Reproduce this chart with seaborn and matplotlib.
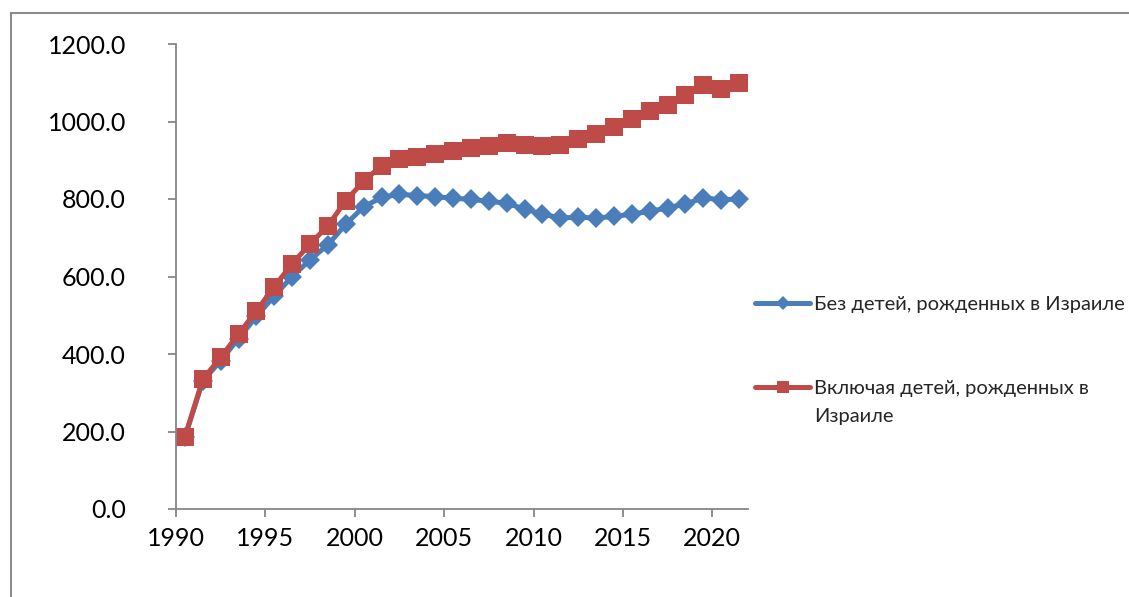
import pandas as pd
import seaborn as sns
import matplotlib.pyplot as plt
from matplotlib.lines import Line2D
from matplotlib.patches import Rectangle

# Data (one point per year, drawn at mid-year)
years = [1990, 1991, 1992, 1993, 1994, 1995, 1996, 1997, 1998, 1999,
         2000, 2001, 2002, 2003, 2004, 2005, 2006, 2007, 2008, 2009,
         2010, 2011, 2012, 2013, 2014, 2015, 2016, 2017, 2018, 2019,
         2020, 2021]
without_israel_born = [186, 330, 383, 440, 497, 550, 600, 643, 682, 735,
                       780, 804, 812, 809, 806, 802, 799, 794, 789, 774,
                       761, 751, 753, 751, 755, 761, 768, 777, 787, 803,
                       798, 800]
with_israel_born = [186, 335, 391, 452, 511, 574, 633, 684, 731, 796,
                    846, 886, 902, 908, 916, 924, 932, 938, 944, 939,
                    938, 939, 955, 968, 985, 1006, 1026, 1043, 1068, 1095,
                    1084, 1099]
series_labels = ["Без детей, рожденных в Израиле",
                 "Включая детей, рожденных в\nИзраиле"]
y_ticks = [0, 200, 400, 600, 800, 1000, 1200]
x_ticks = [1990, 1995, 2000, 2005, 2010, 2015, 2020]

blue = "#4A7EBB"
red = "#BE4B48"
grey = "#868686"

df = pd.DataFrame({"year": years,
                   "without": without_israel_born,
                   "with": with_israel_born})
df["x"] = df["year"] + 0.5

sns.set_style("ticks")
plt.rcParams['font.family'] = ['Lato', 'DejaVu Sans']

fig = plt.figure(figsize=(11.29, 5.97), dpi=100)
ax = fig.add_axes([176 / 1129, 1 - 509 / 597, 572 / 1129, 465 / 597])

sns.lineplot(data=df, x="x", y="without", ax=ax, color=blue, linewidth=3.6,
             marker="D", markersize=10, markeredgewidth=0, legend=False)
sns.lineplot(data=df, x="x", y="with", ax=ax, color=red, linewidth=3.6,
             marker="s", markersize=13, markeredgewidth=0, legend=False)

ax.set_xlim(1990, 2022)
ax.set_ylim(0, 1200)
ax.set_xticks(x_ticks)
ax.set_yticks(y_ticks)
ax.set_yticklabels([f"{v:.1f}" for v in y_ticks])
ax.set_xlabel("")
ax.set_ylabel("")

for side in ["top", "right"]:
    ax.spines[side].set_visible(False)
for side in ["left", "bottom"]:
    ax.spines[side].set_color(grey)
    ax.spines[side].set_linewidth(1.3)

ax.tick_params(axis="both", direction="out", length=6, width=1.3,
               color=grey, labelsize=18, labelcolor="black")
ax.tick_params(axis="y", pad=30)
ax.tick_params(axis="x", pad=7)

# Legend at the right
handles = [
    Line2D([], [], color=blue, linewidth=3.6, marker="D", markersize=7,
           markeredgewidth=0),
    Line2D([], [], color=red, linewidth=3.6, marker="s", markersize=9,
           markeredgewidth=0),
]
leg = fig.legend(handles, series_labels, loc="upper left",
                 bbox_to_anchor=(755 / 1129, 1 - 296 / 597), frameon=False,
                 fontsize=14.5, handlelength=2.75, handletextpad=0.2,
                 labelspacing=3.3, borderpad=0, borderaxespad=0)
for t in leg.get_texts():
    t.set_linespacing(1.8)
# put the second handle next to the first line of its wrapped label
rows = leg._legend_handle_box.get_children()[0].get_children()
rows[1].align = "top"

# Outer chart frame
fig.patches.append(Rectangle((11 / 1129, -0.1), 1.2, 1.1 - 13 / 597,
                             transform=fig.transFigure, fill=False,
                             edgecolor="#8C8C8C", linewidth=1.5))

fig.savefig("out.png", dpi=100)
